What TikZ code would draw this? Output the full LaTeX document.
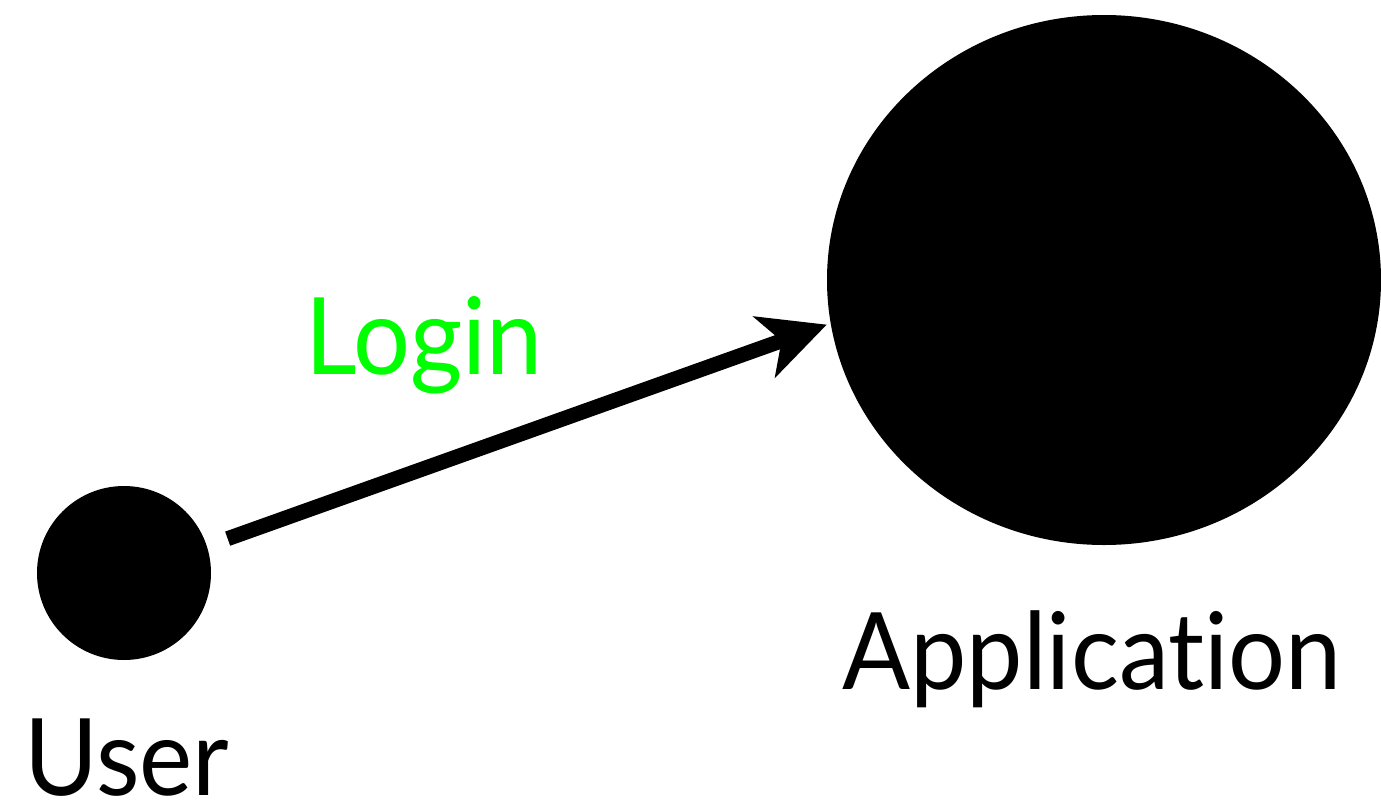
\documentclass[tikz,border=0pt]{standalone}
\usepackage{fontspec}
\setmainfont{Lato}[Ligatures=NoCommon,FakeStretch=0.94]
\usetikzlibrary{shapes.geometric,arrows.meta}
\definecolor{logingreen}{RGB}{0,255,0}
\tikzset{
  dot/.style={circle,fill=black,draw=none,inner sep=0pt},
  bigdot/.style={ellipse,fill=black,draw=none,inner sep=0pt},
  lbl/.style={anchor=base,inner sep=0pt,font=\fontsize{107}{107}\selectfont},
  link/.style={line width=15pt,-{Stealth[length=66pt,width=64pt,inset=18pt]}}
}
\begin{document}
\begin{tikzpicture}[x=1pt,y=-1pt]
\useasboundingbox (0,0) rectangle (1381,806);
\node[dot,minimum size=174pt] (user) at (124,573) {};
\node[bigdot,minimum width=554pt,minimum height=530pt] (app) at (1104,280) {};
\node[lbl] (userlbl) at (127,795) {User};
\node[lbl] (applbl) at (1092,689) {Application};
\node[lbl,text=logingreen] (login) at (424,374) {Login};
\draw[link,shorten <=22pt,shorten >=4pt] (user.18.8) -- (app.189.7);
\end{tikzpicture}
\end{document}
